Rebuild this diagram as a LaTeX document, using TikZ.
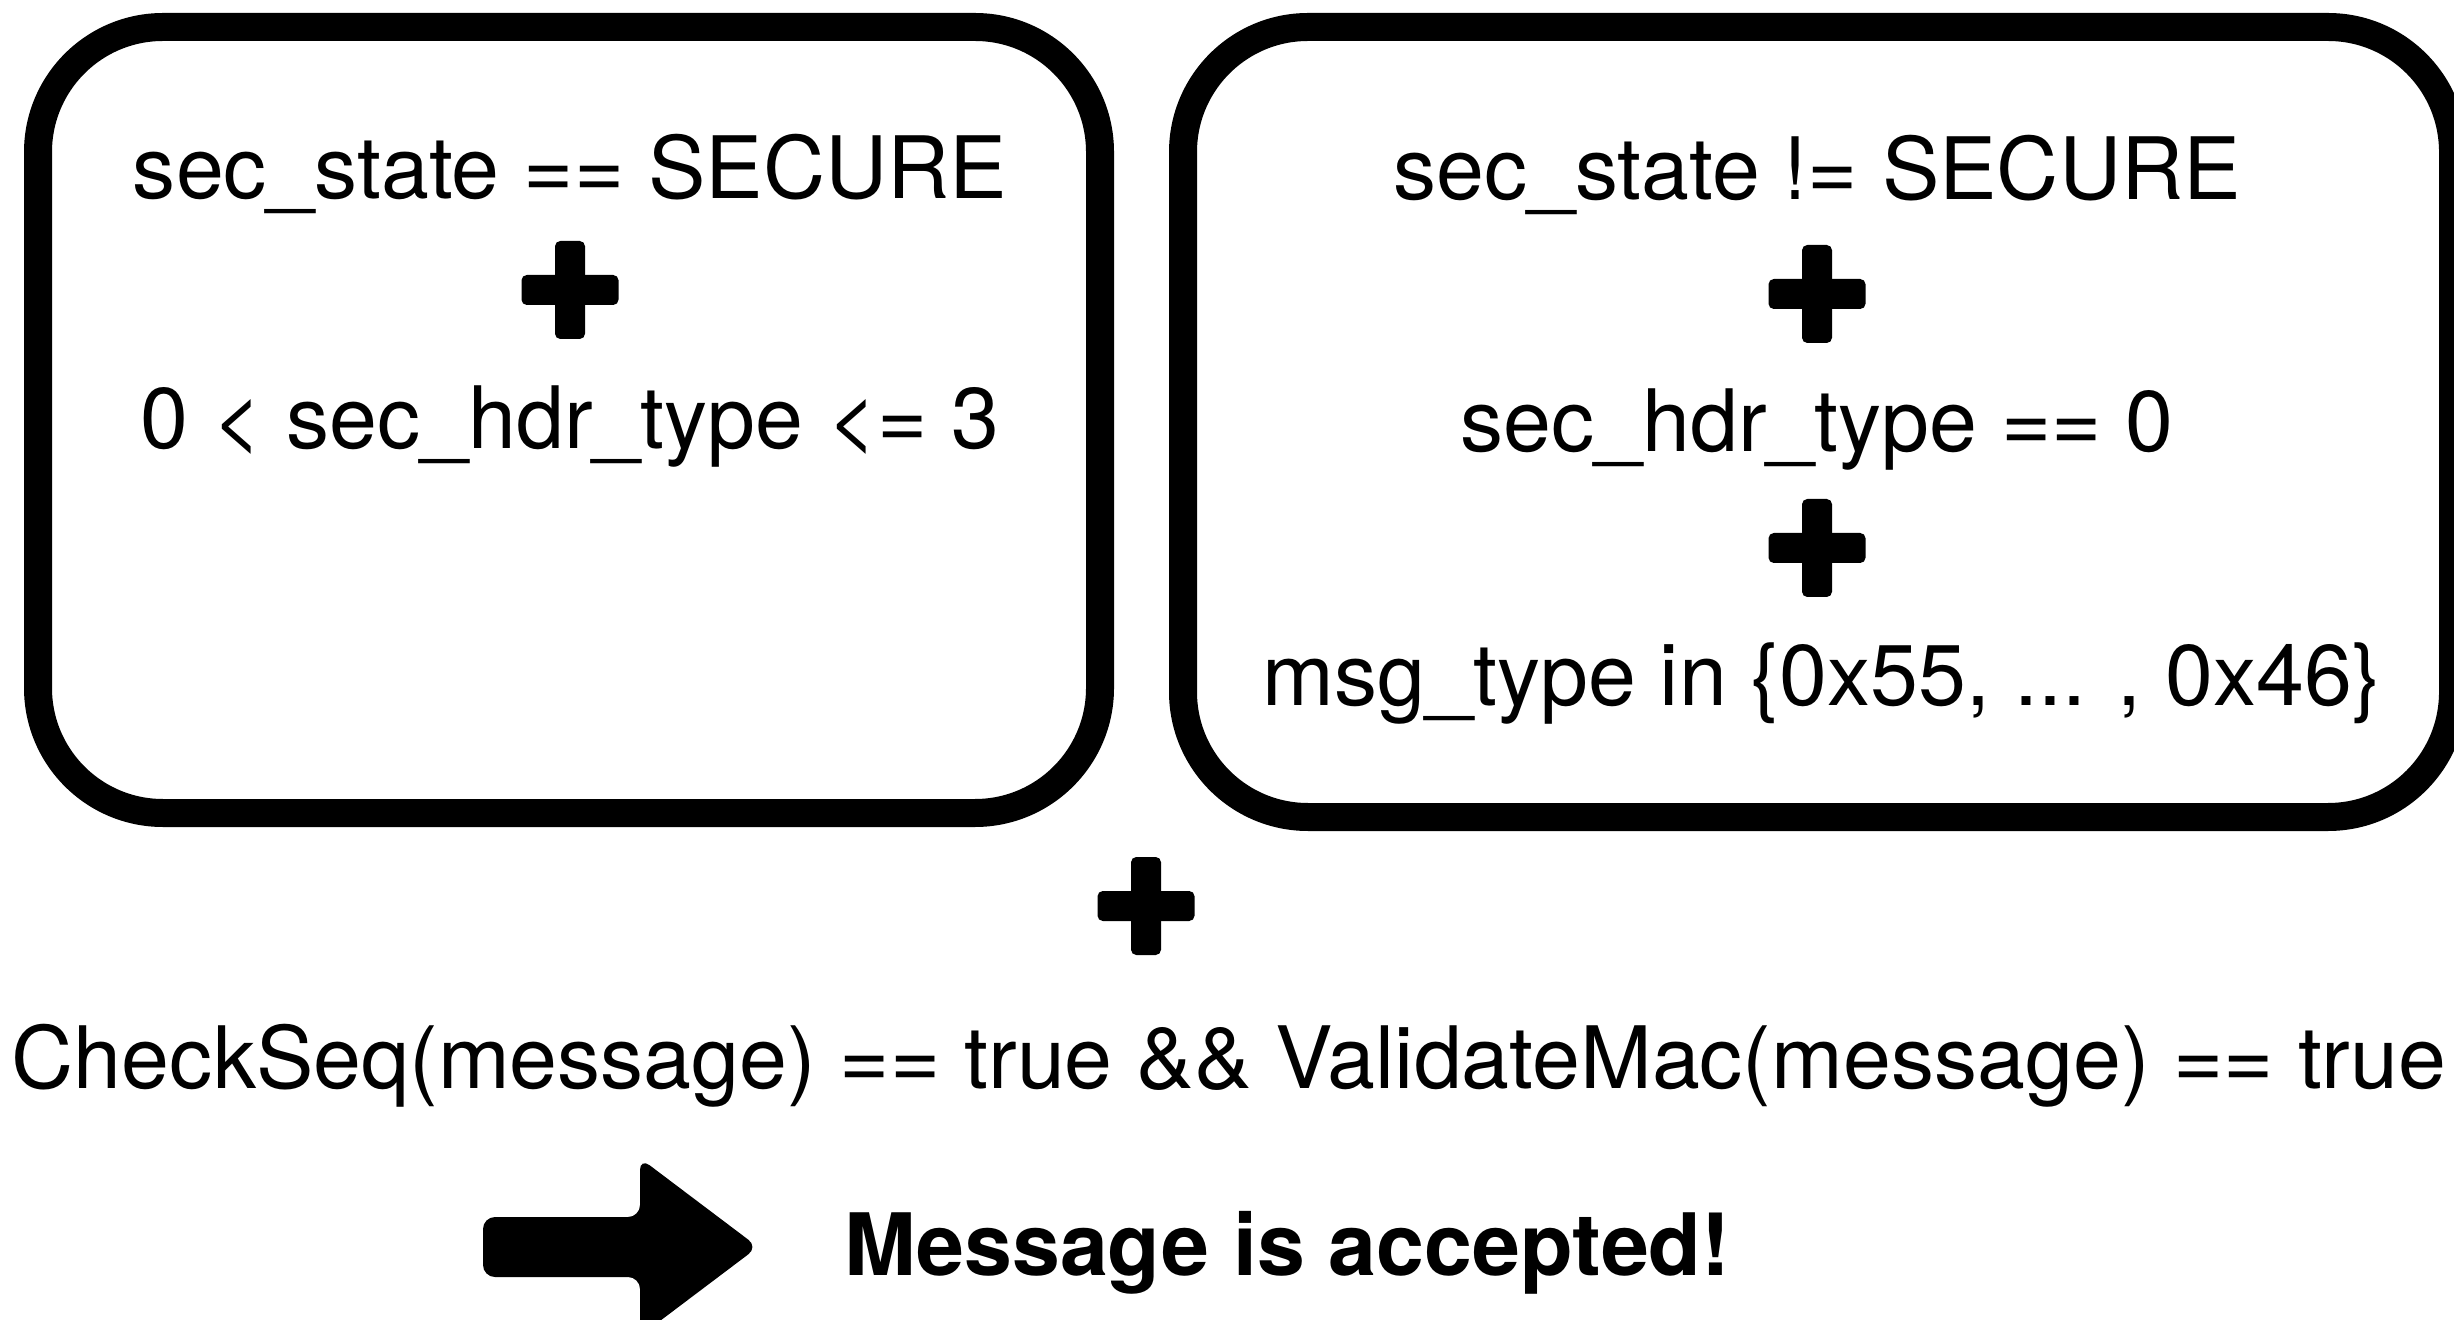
\documentclass[tikz,border=0pt]{standalone}
\usepackage{fontspec}
\setmainfont{TeX Gyre Heros}
\usetikzlibrary{positioning,calc}

\begin{document}
\begin{tikzpicture}[
  condbox/.style={line width=0.28cm,rounded corners=1.25cm},
  condtext/.style={anchor=base,inner sep=0pt,font=\fontsize{24.5}{30}\selectfont},
  plussign/.pic={
    \fill[rounded corners=1.5pt] (-0.485,-0.15) rectangle (0.485,0.15);
    \fill[rounded corners=1.5pt] (-0.15,-0.49) rectangle (0.15,0.49);
  }
]
  \clip (0,0) rectangle (24.54,-13.2);

  % Condition boxes
  \draw[condbox] (0.38,-0.27) rectangle (11.00,-8.13);
  \draw[condbox] (11.83,-0.27) rectangle (24.53,-8.17);

  % Secure state
  \node[condtext] (secstate) at (5.70,-1.99) {sec\_state == SECURE};
  \pic at (5.70,-2.90) {plussign};
  \node[condtext] (sechdr) at (5.70,-4.49) {0 < sec\_hdr\_type <= 3};

  % Not secure state
  \node[condtext] (nosecstate) at (18.17,-2.00) {sec\_state != SECURE};
  \pic at (18.17,-2.94) {plussign};
  \node[condtext] (nosechdr) at (18.17,-4.52) {sec\_hdr\_type == 0};
  \pic at (18.17,-5.48) {plussign};
  \node[condtext] (msgtype) at (18.22,-7.06) {msg\_type in \{0x55, ... , 0x46\}};

  % Common check
  \pic at (11.46,-9.06) {plussign};
  \node[condtext,anchor=base west] (check) at (0.11,-10.88) {CheckSeq(message) == true \&\& ValidateMac(message) == true};

  % Result
  \fill[rounded corners=0.12cm] (4.83,-12.17) -- (6.40,-12.17) -- (6.40,-11.58) -- (7.58,-12.47)
    -- (6.40,-13.36) -- (6.40,-12.77) -- (4.83,-12.77) -- cycle;
  \node[condtext,anchor=base west,font=\fontsize{24.5}{30}\selectfont\bfseries] (accepted) at (8.44,-12.75) {Message is accepted!};
\end{tikzpicture}
\end{document}
